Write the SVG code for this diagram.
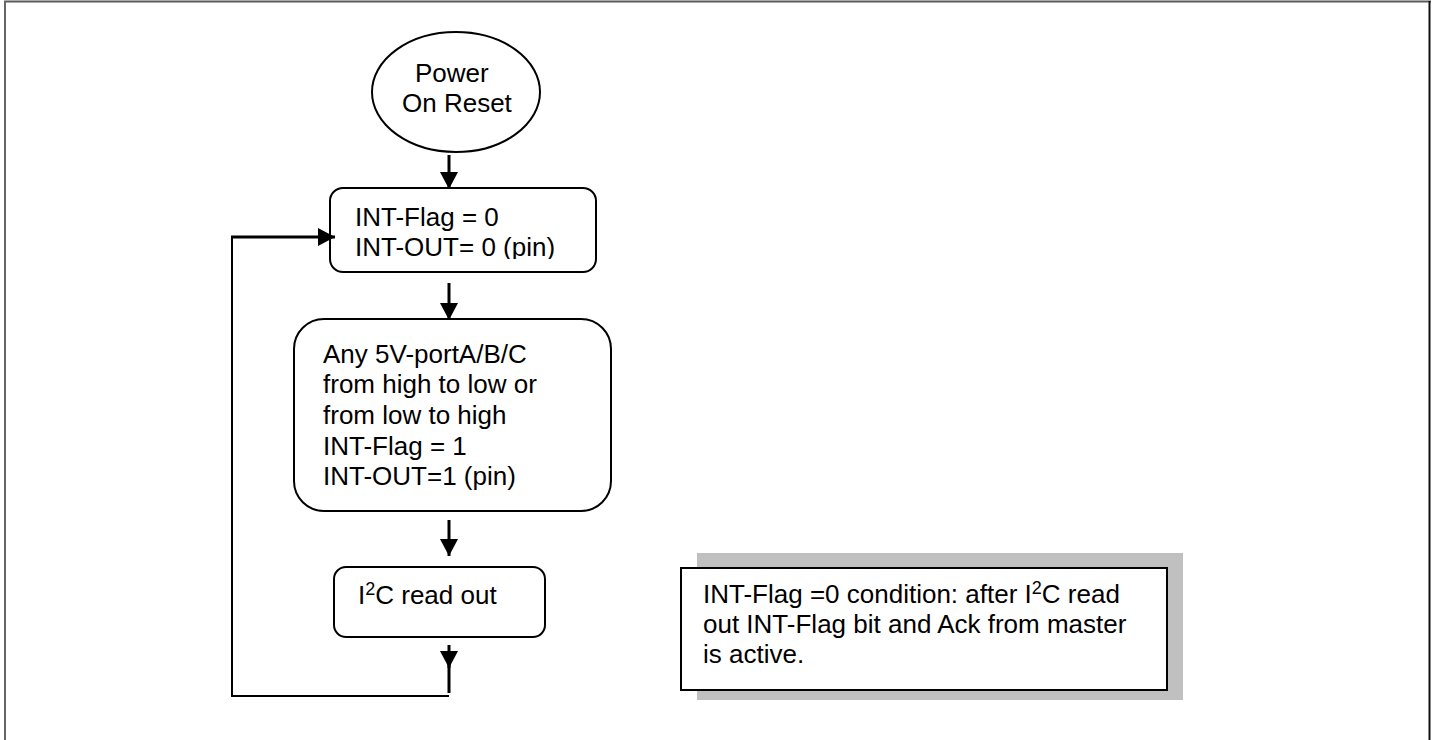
<svg xmlns="http://www.w3.org/2000/svg" width="1435" height="740" viewBox="0 0 1435 740">
<style>
text{font-family:"Liberation Sans",Arial,sans-serif;font-size:26px;fill:#000}
.box{fill:#fff;stroke:#000;stroke-width:2}
.ln{fill:none;stroke:#000;stroke-width:3}
.ln2{fill:none;stroke:#000;stroke-width:2}
</style>
<defs>
<marker id="ah" viewBox="0 0 17 18" refX="17" refY="9" markerWidth="17" markerHeight="18" markerUnits="userSpaceOnUse" orient="auto">
<path d="M0,0 L17,9 L0,18 Z" fill="#000"/>
</marker>
<clipPath id="c1"><rect x="330" y="188" width="266" height="71"/></clipPath>
</defs>
<rect width="1435" height="740" fill="#fff"/>
<g id="frame">
<line x1="4" y1="1.5" x2="1431" y2="1.5" stroke="#5a5a5a" stroke-width="2"/>
<line x1="5" y1="1" x2="5" y2="740" stroke="#666" stroke-width="2"/>
<line x1="1429.5" y1="1" x2="1429.5" y2="740" stroke="#111" stroke-width="2"/>
</g>
<g id="n-por">
<ellipse class="box" cx="456" cy="92" rx="84" ry="60"/>
<text x="415" y="82">Power</text>
<text x="402" y="112">On Reset</text>
</g>
<g id="n-init">
<rect class="box" x="330" y="188" width="266" height="84" rx="13"/>
<g clip-path="url(#c1)">
<text x="355" y="226">INT-Flag = 0</text>
<text x="355" y="256">INT-OUT= 0 (pin)</text>
</g>
</g>
<g id="n-change">
<rect class="box" x="294" y="319" width="317" height="192" rx="30"/>
<text x="323" y="363">Any 5V-portA/B/C</text>
<text x="323" y="393">from high to low or</text>
<text x="323" y="424">from low to high</text>
<text x="323" y="455">INT-Flag = 1</text>
<text x="323" y="485">INT-OUT=1 (pin)</text>
</g>
<g id="n-read">
<rect class="box" x="334" y="567" width="211" height="70" rx="12"/>
<text x="358" y="604">I<tspan font-size="18" dy="-9">2</tspan><tspan dy="9">C read out</tspan></text>
</g>
<g id="n-note">
<rect x="697" y="553" width="486" height="147" fill="#c0c0c0"/>
<rect class="box" x="681" y="568" width="486" height="122"/>
<text x="703" y="603">INT-Flag =0 condition: after I<tspan font-size="18" dy="-9">2</tspan><tspan dy="9">C read</tspan></text>
<text x="703" y="633">out INT-Flag bit and Ack from master</text>
<text x="703" y="663">is active.</text>
</g>
<g id="connectors">
<line class="ln" x1="449" y1="155" x2="449" y2="189" marker-end="url(#ah)"/>
<line class="ln" x1="449" y1="283" x2="449" y2="320" marker-end="url(#ah)"/>
<line class="ln" x1="449" y1="520" x2="449" y2="556" marker-end="url(#ah)"/>
<line class="ln" x1="449" y1="645" x2="449" y2="668" marker-end="url(#ah)"/>
<line class="ln" x1="449" y1="660" x2="449" y2="693"/>
<polyline class="ln2" points="449,696 232,696 232,237"/>
<line class="ln" x1="231" y1="237" x2="335" y2="237" marker-end="url(#ah)"/>
</g>
</svg>
